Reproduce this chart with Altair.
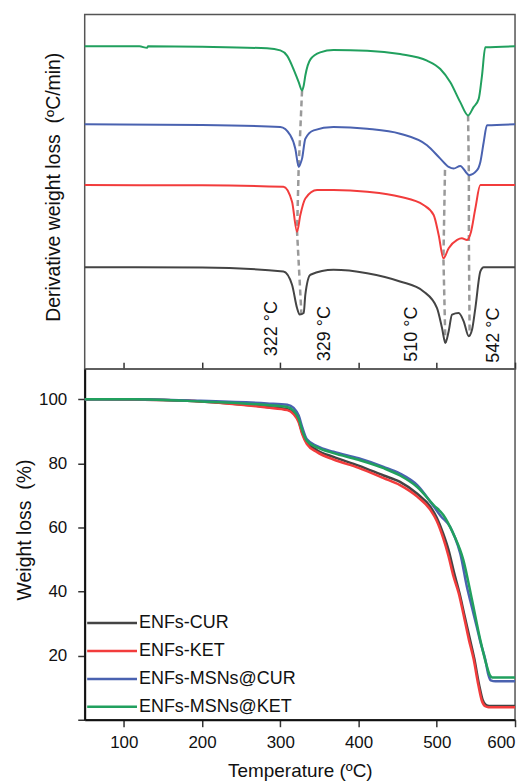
import altair as alt
import pandas as pd

series = ["ENFs-CUR", "ENFs-KET", "ENFs-MSNs@CUR", "ENFs-MSNs@KET"]
colors = ["#444444", "#f23c3c", "#4a62b0", "#21a05e"]
x_ticks = [100, 200, 300, 400, 500, 600]
y_ticks = [0, 20, 40, 60, 80, 100]

# ---- DTG curves (upper panel, arbitrary offset units) ----
dtg_cur_T = [50, 200, 304, 315, 321.4, 324.8, 329.9, 332, 338.5, 368, 411, 453, 483, 500.3, 506.7, 511, 515.2, 519.5, 528, 534.4, 540.8, 545.1, 549.3, 555.7, 560, 600]
dtg_cur_v = [102.3, 102, 98, 84.7, 61.3, 54.7, 56.3, 74.7, 94.7, 99.7, 96.3, 88, 78, 61.3, 41.3, 26.3, 38, 54.7, 56.3, 48, 33, 39.7, 61.3, 98, 102.3, 102.3]

dtg_ket_T = [50, 200, 304, 315, 321.4, 325.6, 332, 347, 368, 411, 453, 483, 496, 502.4, 508.5, 515.2, 526, 532, 538.7, 543.8, 549.3, 555.7, 600]
dtg_ket_v = [184.7, 184.5, 183, 168, 138, 154.7, 171.3, 179.7, 179.7, 178, 173, 164.7, 154.7, 134.7, 111.3, 121.3, 129.7, 131.3, 129.7, 138, 161.3, 184.7, 184.7]

dtg_mcur_T = [50, 200, 300, 312.8, 319.2, 323.5, 325.6, 327.8, 332, 342.7, 368, 411, 453, 487.5, 504.5, 515.2, 521.6, 530, 538.7, 541, 551.5, 555.7, 560, 564.2, 600]
dtg_mcur_v = [245.7, 245, 243, 234.7, 221.3, 203, 206, 211.3, 231.3, 239.7, 243, 241.3, 236.3, 224.7, 211.3, 203, 201.3, 204, 196.3, 194.7, 199.7, 208, 228, 244.7, 245.7]

dtg_mket_T = [50, 120, 129.7, 131, 200, 283, 300, 308.6, 317, 323.5, 327.8, 330, 332, 338.5, 351, 368, 411, 453, 487.5, 504.5, 517.3, 530, 540, 547, 553.6, 557.8, 562, 600]
dtg_mket_v = [324, 324, 322.5, 324, 323.5, 322, 320, 314.7, 301, 288, 279.7, 285, 294.7, 311, 318, 320.3, 319.7, 316.3, 309.7, 301.3, 288, 268, 254.7, 263, 271.3, 294.7, 323, 324]

# dashed guide lines through the peaks
guide_id = ["a", "a", "a", "a", "b", "b", "b", "b", "c", "c", "c"]
guide_T = [327.8, 323.5, 321.4, 327, 540, 541, 541, 542, 510.5, 508.5, 511]
guide_v = [279.7, 203, 138, 55, 254.7, 194.7, 129.7, 33, 200, 111.3, 26.3]

# peak annotations
peak_labels = ["322 °C", "329 °C", "510 °C", "542 °C"]
peak_T = [289.5, 357.5, 468.3, 573.7]
peak_v = [13, 8, 7.5, 6.5]

# ---- TGA curves (lower panel, weight %) ----
tga_cur_T = [50, 113, 198, 283, 309, 317, 323.5, 328, 334, 347, 368, 400, 432, 453, 475, 492, 500, 508, 515, 522, 529, 535, 542, 548, 554, 558.5, 563, 567, 600]
tga_cur_W = [100, 99.9, 99.3, 97.6, 96.9, 95.7, 93.3, 89.6, 86.6, 84.1, 82, 79.3, 76.2, 74.2, 70.5, 66.4, 63, 58.2, 53, 46, 39.5, 33, 25.5, 19, 11, 6.3, 4.6, 4.3, 4.3]

tga_ket_T = [50, 113, 198, 283, 309, 317, 323.5, 328, 334, 347, 368, 400, 432, 453, 475, 492, 500, 508, 515, 521, 528, 534, 541, 547, 553, 557.5, 562, 566, 600]
tga_ket_W = [100, 99.9, 99.3, 97.4, 96.6, 95.3, 92.8, 89.1, 86, 83.5, 81.2, 78.6, 75.4, 73.2, 69.6, 65.4, 62, 56.8, 51, 45, 39.5, 33, 25, 19, 11, 6, 4.2, 3.9, 3.9]

tga_mcur_T = [50, 113, 198, 283, 309, 317, 323.5, 328, 334, 347, 368, 400, 432, 453, 475, 496, 505, 517, 523, 530, 538.5, 545, 551, 556, 562, 566, 569, 575, 600]
tga_mcur_W = [100, 100, 99.5, 98.7, 98.3, 97.3, 94.9, 91.3, 87.5, 85.4, 83.6, 81.6, 78.9, 76.8, 73.2, 66.6, 63.6, 60.2, 57, 51.9, 41.5, 35, 29.1, 24, 18.8, 14, 12.3, 12, 12]

tga_mket_T = [50, 113, 198, 283, 309, 317, 323.5, 328, 334, 347, 368, 400, 432, 453, 475, 496, 508.6, 521, 534, 545, 555.5, 564, 568, 571, 600]
tga_mket_W = [100, 100, 99.3, 98.2, 97.6, 96.4, 93.9, 90.3, 87, 85, 83.2, 81.1, 78.5, 76.2, 72.6, 67, 63.8, 58.1, 49.8, 37.4, 25, 16.7, 13.8, 13.2, 13.2]


def frame(name, T, v, col):
    return pd.DataFrame({"series": name, "T": T, col: v})


dtg = pd.concat([
    frame(series[0], dtg_cur_T, dtg_cur_v, "v"),
    frame(series[1], dtg_ket_T, dtg_ket_v, "v"),
    frame(series[2], dtg_mcur_T, dtg_mcur_v, "v"),
    frame(series[3], dtg_mket_T, dtg_mket_v, "v"),
])
tga = pd.concat([
    frame(series[0], tga_cur_T, tga_cur_W, "W"),
    frame(series[1], tga_ket_T, tga_ket_W, "W"),
    frame(series[2], tga_mcur_T, tga_mcur_W, "W"),
    frame(series[3], tga_mket_T, tga_mket_W, "W"),
])
guides = pd.DataFrame({"g": guide_id, "T": guide_T, "v": guide_v, "i": list(range(len(guide_id)))})
peaks = pd.DataFrame({"label": peak_labels, "T": peak_T, "v": peak_v})

W_PLOT = 432
xscale = alt.Scale(domain=[50, 600], nice=False)
cscale = alt.Scale(domain=series, range=colors)

# ---------- top panel ----------
x_top = alt.X("T:Q", scale=xscale,
              axis=alt.Axis(orient="bottom", offset=-7, tickSize=7, labels=False,
                            domain=False, title=None, values=x_ticks, grid=False,
                            tickColor="#333333", tickWidth=1.5))
y_top = alt.Y("v:Q", scale=alt.Scale(domain=[0, 356], nice=False),
              axis=alt.Axis(domain=False, ticks=False, labels=False, grid=False,
                            title="Derivative weight loss\u00a0 (ºC/min)",
                            titleX=-21, titleY=173, titleFontSize=19.5,
                            titleFontWeight="normal", titleColor="#111111"))

dtg_lines = alt.Chart(dtg).mark_line(strokeWidth=2, interpolate="monotone").encode(
    x=x_top, y=y_top,
    color=alt.Color("series:N", scale=cscale, legend=None),
)
guide_lines = alt.Chart(guides).mark_line(strokeWidth=2.5, strokeDash=[6, 4], color="#9a9a9a").encode(
    x=alt.X("T:Q", scale=xscale), y=alt.Y("v:Q"), detail="g:N", order="i:Q"
)
peak_text = alt.Chart(peaks).mark_text(angle=270, align="left", baseline="middle",
                                        fontSize=18, color="#111111").encode(
    x=alt.X("T:Q", scale=xscale), y=alt.Y("v:Q"), text="label:N"
)
top = alt.layer(guide_lines, dtg_lines, peak_text).properties(width=W_PLOT, height=356)

# ---------- bottom panel ----------
x_bot = alt.X("T:Q", scale=xscale,
              axis=alt.Axis(values=x_ticks, tickSize=7, labelFontSize=17, labelPadding=8,
                            labelFlush=True,
                            title="Temperature (ºC)", titleFontSize=19, titleFontWeight="normal",
                            titlePadding=11, domainColor="#111111", domainWidth=2,
                            tickColor="#333333", tickWidth=1.5, labelColor="#111111",
                            titleColor="#111111", grid=False))
y_bot = alt.Y("W:Q", scale=alt.Scale(domain=[0, 109.4], nice=False),
              axis=alt.Axis(values=y_ticks, tickSize=7, labelFontSize=17, labelPadding=11,
                            labelExpr="datum.value == 0 ? '' : datum.label",
                            title="Weight loss\u00a0 (%)", titleFontSize=19.5,
                            titleFontWeight="normal", titleX=-50, titleY=161,
                            domainColor="#111111", domainWidth=2, tickColor="#333333",
                            tickWidth=1.5, labelColor="#111111", titleColor="#111111",
                            grid=False))

bottom = alt.Chart(tga).mark_line(strokeWidth=2.5, interpolate="monotone").encode(
    x=x_bot, y=y_bot,
    color=alt.Color("series:N", scale=cscale, title=None,
                    legend=alt.Legend(orient="none", legendX=18.5, legendY=246,
                                      symbolType="M-5,0H5", symbolSize=100,
                                      symbolStrokeWidth=2.5, labelFontSize=18,
                                      labelOffset=18, rowPadding=10, padding=0,
                                      labelColor="#111111", labelLimit=300)),
).properties(width=W_PLOT, height=352)

chart = alt.vconcat(top, bottom, spacing=0, bounds="flush").resolve_scale(
    color="independent"
).resolve_legend(color="independent").properties(
    padding={"left": 6, "top": 4, "right": 0, "bottom": 0}
).configure(font="Liberation Sans").configure_view(
    stroke="#555555", strokeWidth=1.5
)

chart.save("out.html", embed_options={"renderer": "svg", "actions": False})
